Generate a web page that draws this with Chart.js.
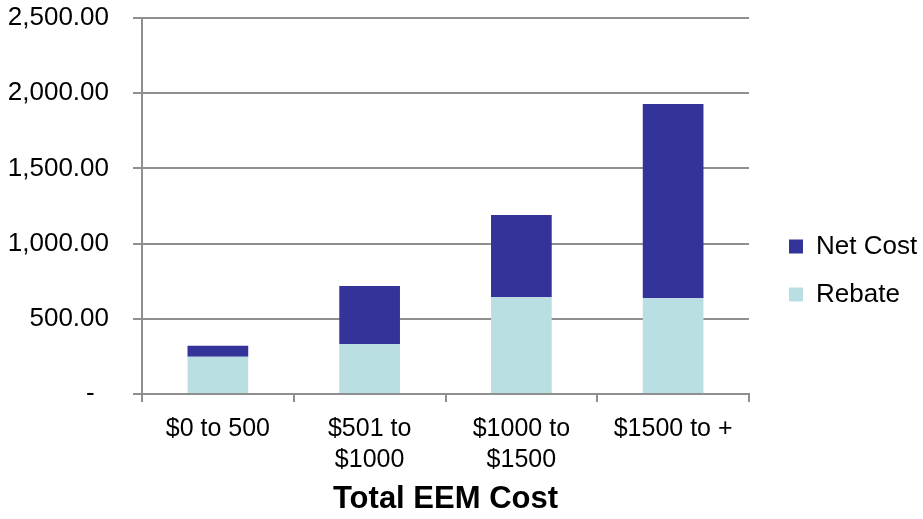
<!DOCTYPE html>
<html>
<head>
<meta charset="utf-8">
<script src="https://cdn.jsdelivr.net/npm/chart.js@4"></script>
<style>
    html, body { margin: 0; padding: 0; background: #fff; }
    #wrap { width: 923px; height: 519px; }
</style>
</head>
<body>
<div id="wrap"><canvas id="graficaCostos" width="923" height="519"></canvas></div>
<script>
"use strict";
/* Datos de la gráfica */
const categorias = [["$0 to 500"], ["$501 to", "$1000"], ["$1000 to", "$1500"], ["$1500 to +"]];
const rebate = [248, 330, 643, 636];
const netCost = [73, 388, 547, 1292];
const ticksY = [0, 500, 1000, 1500, 2000, 2500];

const fuente = "'Liberation Sans', Arial, sans-serif";
const gris = "#8f8f8f";

/* Formato contable del eje Y */
function formatoY(valor) {
    if (valor === 0) return "-  ";
    return valor.toLocaleString("en-US", { minimumFractionDigits: 2, maximumFractionDigits: 2 });
}

/* Separación entre el área de la gráfica y la leyenda */
const leyendaAjuste = {
    id: "leyendaAjuste",
    beforeUpdate(chart) {
        const legend = chart.legend;
        if (legend && !legend._anchoFijo) {
            const fitOriginal = legend.fit.bind(legend);
            legend.fit = () => {
                fitOriginal();
                legend.width = 174;
            };
            legend._anchoFijo = true;
        }
    },
    afterLayout(chart) {
        chart.legend.left += 18;
        chart.legend.right += 18;
        chart.legend.top += 11;
        chart.legend.bottom += 11;
    }
};

function inicializarGrafica() {
    const canvas = document.getElementById("graficaCostos");

    new Chart(canvas, {
        type: "bar",
        data: {
            labels: categorias,
            datasets: [
                {
                    label: "Rebate",
                    data: rebate,
                    backgroundColor: "#badfe3",
                    borderWidth: 0
                },
                {
                    label: "Net Cost",
                    data: netCost,
                    backgroundColor: "#343399",
                    borderWidth: 0
                }
            ]
        },
        options: {
            responsive: false,
            animation: false,
            layout: { padding: 0 },
            datasets: {
                bar: { categoryPercentage: 1, barPercentage: 0.4 }
            },
            scales: {
                x: {
                    stacked: true,
                    grid: {
                        drawOnChartArea: false,
                        drawTicks: true,
                        tickLength: 8,
                        color: gris,
                        lineWidth: 2
                    },
                    border: { color: gris, width: 2 },
                    ticks: {
                        color: "#000",
                        padding: 11,
                        maxRotation: 0,
                        font: { family: fuente, size: 25, lineHeight: 1.25 }
                    },
                    title: {
                        display: true,
                        text: "Total EEM Cost",
                        color: "#000",
                        padding: { top: 4, bottom: 1 },
                        font: { family: fuente, size: 31, weight: "bold" }
                    },
                    afterFit(scale) { scale.height = 125; }
                },
                y: {
                    stacked: true,
                    min: 0,
                    max: 2500,
                    afterBuildTicks(scale) {
                        scale.ticks = ticksY.map(v => ({ value: v }));
                    },
                    grid: {
                        color: gris,
                        lineWidth: 2,
                        tickLength: 9
                    },
                    border: { color: gris, width: 2 },
                    ticks: {
                        color: "#000",
                        padding: 24,
                        font: { family: fuente, size: 26 },
                        callback: valor => formatoY(valor)
                    },
                    afterFit(scale) {
                        scale.width = 142;
                        scale.paddingTop = 18;
                        scale.paddingBottom = 0;
                    }
                }
            },
            plugins: {
                legend: {
                    position: "right",
                    reverse: true,
                    labels: {
                        color: "#000",
                        boxWidth: 14,
                        boxHeight: 14,
                        padding: 22,
                        font: { family: fuente, size: 26 }
                    }
                },
                tooltip: { enabled: false }
            }
        },
        plugins: [leyendaAjuste]
    });
}

/* Ejecutar al cargar la página */
document.addEventListener("DOMContentLoaded", () => {
    inicializarGrafica();
});
</script>
</body>
</html>
